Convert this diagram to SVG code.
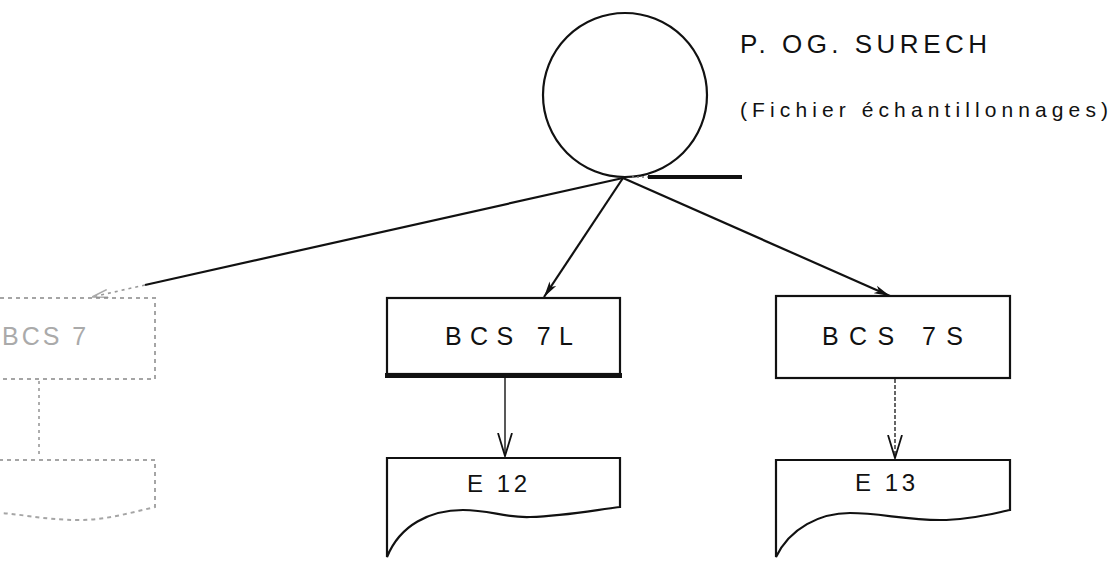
<svg xmlns="http://www.w3.org/2000/svg" width="1112" height="567" viewBox="0 0 1112 567">
  <style>
    .ln { fill: none; stroke: #111; stroke-width: 2.2; }
    .box { fill: #fff; stroke: #111; stroke-width: 2.2; }
    .faded { fill: #fff; stroke: #888; stroke-width: 2; stroke-dasharray: 4 4; opacity: 0.75; }
    .fadedln { fill: none; stroke: #999; stroke-width: 1.6; stroke-dasharray: 3 4; }
    .lbl { font-family: "Liberation Sans", Arial, sans-serif; font-size: 25px; fill: #111; }
    .doc { font-family: "Liberation Sans", Arial, sans-serif; font-size: 24px; fill: #111; }
    .title { font-family: "Liberation Sans", Arial, sans-serif; font-size: 26px; fill: #111; }
    .sub { font-family: "Liberation Sans", Arial, sans-serif; font-size: 21px; fill: #111; }
  </style>
  <defs>
    <marker id="arrF" viewBox="0 0 16 10" refX="16" refY="5" markerWidth="16" markerHeight="10" markerUnits="userSpaceOnUse" orient="auto">
      <path d="M0,1 L16,5 L0,9 L4,5 Z" fill="#111"/>
    </marker>
    <marker id="arrFaint" viewBox="0 0 16 10" refX="16" refY="5" markerWidth="16" markerHeight="10" markerUnits="userSpaceOnUse" orient="auto">
      <path d="M0,1 L16,5 L0,9" fill="none" stroke="#aaa" stroke-width="1.5"/>
    </marker>
    <marker id="arrV" viewBox="0 0 24 16" refX="23" refY="8" markerWidth="24" markerHeight="16" markerUnits="userSpaceOnUse" orient="auto">
      <path d="M0,1 L23,8 L0,15" fill="none" stroke="#111" stroke-width="1.8"/>
    </marker>
  </defs>

  <g id="file-surech">
    <circle cx="625" cy="95" r="82" class="ln"/>
    <text x="740" y="53" class="title" textLength="247" lengthAdjust="spacing">P. OG. SURECH</text>
    <text x="740" y="117" class="sub" textLength="368" lengthAdjust="spacing">(Fichier échantillonnages)</text>
    <line x1="648" y1="177" x2="742" y2="177" stroke="#111" stroke-width="4"/>
    <line x1="632" y1="177" x2="648" y2="177" stroke="#777" stroke-width="1.5" stroke-dasharray="2 3"/>
  </g>

  <g id="connectors">
    <line x1="623" y1="178" x2="145" y2="285" class="ln"/>
    <line x1="145" y1="285" x2="92" y2="297" class="fadedln" marker-end="url(#arrFaint)"/>
    <line x1="623" y1="178" x2="544" y2="297" class="ln" marker-end="url(#arrF)"/>
    <line x1="623" y1="178" x2="890" y2="296" class="ln" marker-end="url(#arrF)"/>
    <line x1="39" y1="381" x2="39" y2="455" class="fadedln"/>
    <line x1="505" y1="378" x2="505" y2="456" stroke="#222" stroke-width="1.5" marker-end="url(#arrV)"/>
    <line x1="895" y1="379" x2="895" y2="458" stroke="#333" stroke-width="1.5" stroke-dasharray="4 2" marker-end="url(#arrV)"/>
  </g>

  <g id="bcs7">
    <rect x="-80" y="298" width="235" height="81" class="faded"/>
    <text x="2" y="345" class="lbl" style="fill:#aaa;letter-spacing:3px">BCS 7</text>
  </g>

  <g id="doc-left">
    <path d="M-80,557 L-80,460 L155,460 L155,507 C130,513 105,520 80,520 C40,520 20,513 -6,513" class="faded"/>
  </g>

  <g id="bcs7l">
    <rect x="387" y="298" width="233" height="76" class="box"/>
    <line x1="385" y1="375.5" x2="622" y2="375.5" stroke="#111" stroke-width="5"/>
    <text x="445" y="345" class="lbl" textLength="128" lengthAdjust="spacing">BCS 7L</text>
  </g>

  <g id="bcs7s">
    <rect x="776" y="296" width="234" height="82" class="box"/>
    <text x="822" y="345" class="lbl" textLength="141" lengthAdjust="spacing">BCS 7S</text>
  </g>

  <g id="e12">
    <path d="M387,557 L387,458 L620,458 L620,507 C595,510 565,516 530,517 C505,518 490,510 463,510 C430,510 400,525 387,557 Z" class="box"/>
    <text x="467" y="492" class="doc" textLength="60" lengthAdjust="spacing">E 12</text>
  </g>

  <g id="e13">
    <path d="M776,557 L776,460 L1010,460 L1010,510 C995,513 970,520 940,520 C905,520 880,513 850,513 C820,513 790,528 776,557 Z" class="box"/>
    <text x="855" y="491" class="doc" textLength="60" lengthAdjust="spacing">E 13</text>
  </g>
</svg>
